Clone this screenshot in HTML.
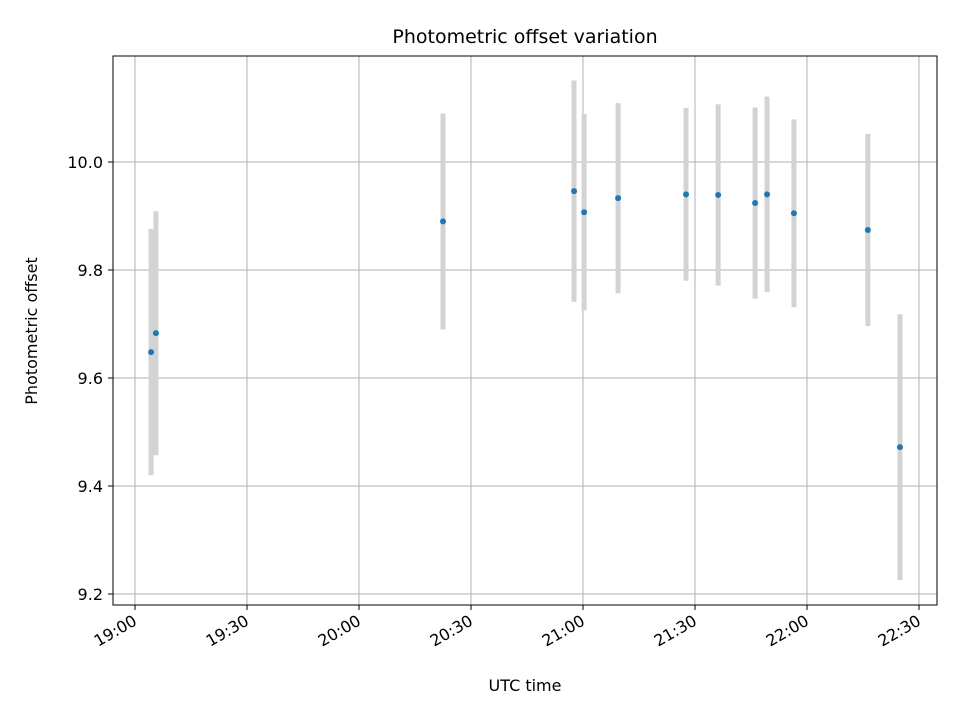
<!DOCTYPE html>
<html><head><meta charset="utf-8"><style>
body{margin:0;background:#fff;font-family:"DejaVu Sans","Liberation Sans",sans-serif}
</style></head><body>
<svg id="chart" width="960" height="720" xmlns="http://www.w3.org/2000/svg" font-family="DejaVu Sans, Liberation Sans, sans-serif">
<rect width="960" height="720" fill="#fff"/>
<g id="grid"></g>
<g id="errs"></g>
<g id="pts"></g>
<rect x="113" y="56" width="824" height="549" fill="none" stroke="#000" stroke-width="1"/>
<g id="xt"></g><g id="yt"></g>
<text x="525" y="43" font-size="19" text-anchor="middle">Photometric offset variation</text>
<text x="525" y="691" font-size="16" text-anchor="middle">UTC time</text>
<text transform="translate(37,331) rotate(-90)" font-size="16" text-anchor="middle">Photometric offset</text>
</svg>
<script>
// minutes after 19:00 UTC
const times=[4.3,5.6,82.5,117.6,120.3,129.4,147.6,156.2,166.1,169.3,176.5,196.3,204.9];
const offsets=[9.648,9.683,9.89,9.946,9.907,9.933,9.94,9.939,9.924,9.94,9.905,9.874,9.472];
const errors=[0.228,0.226,0.2,0.205,0.182,0.176,0.16,0.168,0.177,0.181,0.174,0.178,0.246];
const xTickMinutes=[0,30,60,90,120,150,180,210];
const xTickLabels=["19:00","19:30","20:00","20:30","21:00","21:30","22:00","22:30"];
const yTicks=[9.2,9.4,9.6,9.8,10.0];
const yTickLabels=["9.2","9.4","9.6","9.8","10.0"];
const X=m=>135+m*112/30, Y=v=>162+(10-v)*540;
const NS="http://www.w3.org/2000/svg";
function mk(tag,attrs,parent,txt){const e=document.createElementNS(NS,tag);for(const k in attrs)e.setAttribute(k,attrs[k]);if(txt!==undefined)e.textContent=txt;document.getElementById(parent).appendChild(e);return e;}
xTickMinutes.forEach((m,i)=>{const x=X(m);
const g=mk('line',{x1:x,x2:x,y1:56,y2:605,stroke:'#b0b0b0','stroke-width':1},'grid');


const t=mk('line',{x1:x,x2:x,y1:605,y2:610,stroke:'#000'},'xt');


const l=mk('text',{x:x+3,y:624,'font-size':16,'text-anchor':'end',transform:`rotate(-30 ${x+3} 624)`},'xt',xTickLabels[i]);


});
yTicks.forEach((v,i)=>{const y=Y(v);
const g=mk('line',{x1:113,x2:937,y1:y,y2:y,stroke:'#b0b0b0','stroke-width':1},'grid');


const t=mk('line',{x1:108,x2:113,y1:y,y2:y,stroke:'#000'},'yt');


const l=mk('text',{x:103,y:y+6,'font-size':16,'text-anchor':'end'},'yt',yTickLabels[i]);


});
times.forEach((m,i)=>{const x=X(m);
const e=mk('line',{x1:x,x2:x,y1:Y(offsets[i]+errors[i]),y2:Y(offsets[i]-errors[i]),stroke:'#d3d3d3','stroke-width':5},'errs');


const c=mk('circle',{cx:x,cy:Y(offsets[i]),r:3,fill:'#1f77b4'},'pts');


});
</script>
</body></html>
